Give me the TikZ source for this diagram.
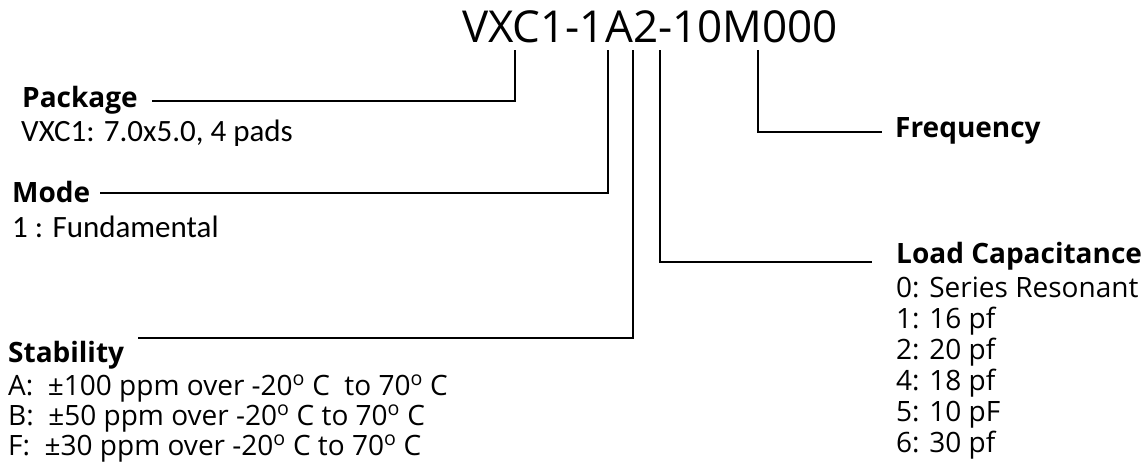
\documentclass[tikz,border=0pt]{standalone}
\usepackage{fontspec}
\setmainfont{Open Sans}
\newfontfamily\calfont{Carlito}
\newcommand{\dg}{\textsuperscript{o}}
\begin{document}
\begin{tikzpicture}[x=1pt,y=-1pt,
  conn/.style={line width=2.8pt, line join=miter},
  lbl/.style={inner sep=0pt, anchor=base west, font=\fontsize{28}{32}\selectfont\bfseries},
  txt/.style={inner sep=0pt, anchor=base west, font=\fontsize{28}{32}\selectfont},
  cal/.style={inner sep=0pt, anchor=base west, font=\calfont\fontsize{31}{35}\selectfont},
  ttl/.style={inner sep=0pt, anchor=base west, font=\fontsize{44}{50}\selectfont}]
\useasboundingbox (0,0) rectangle (1147,466);
% title
\node[ttl] (title) at (462,42) {VXC1-1A2-10M000};
% stub tops
\coordinate (spkg) at (515,50);
\coordinate (smode) at (608,50);
\coordinate (sstab) at (633,50);
\coordinate (sload) at (660,50);
\coordinate (sfreq) at (758,50);
% label line ends
\coordinate (epkg) at (152,101);
\coordinate (emode) at (100,193);
\coordinate (estab) at (138,338);
\coordinate (eload) at (872,262);
\coordinate (efreq) at (882,132);
% labels
\node[lbl] (pkg) at (22,107) {Package};
\node[cal] (pkgd) at (21,141) {VXC1: 7.0x5.0, 4 pads};
\node[lbl] (mode) at (12,202) {Mode};
\node[cal] (moded) at (12,237) {1 : Fundamental};
\node[lbl] (stab) at (8,362) {Stability};
\node[txt] (stA) at (8,395) {A:\ \ ±100 ppm over -20\dg\ C\ \ to 70\dg\ C};
\node[txt] (stB) at (8,425) {B:\ \ ±50 ppm over -20\dg\ C to 70\dg\ C};
\node[txt] (stF) at (8,455) {F:\ \ ±30 ppm over -20\dg\ C to 70\dg\ C};
\node[lbl] (freq) at (895,137) {Frequency};
\node[lbl] (load) at (896,263) {Load Capacitance};
\node[txt] (l0) at (896,297) {0: Series Resonant};
\node[txt] (l1) at (896,328) {1: 16 pf};
\node[txt] (l2) at (896,359) {2: 20 pf};
\node[txt] (l4) at (896,390) {4: 18 pf};
\node[txt] (l5) at (896,421) {5: 10 pF};
\node[txt] (l6) at (896,452) {6: 30 pf};
% connectors
\draw[conn] (spkg) |- (epkg);
\draw[conn] (smode) |- (emode);
\draw[conn] (sstab) |- (estab);
\draw[conn] (sload) |- (eload);
\draw[conn] (sfreq) |- (efreq);
\end{tikzpicture}
\end{document}
